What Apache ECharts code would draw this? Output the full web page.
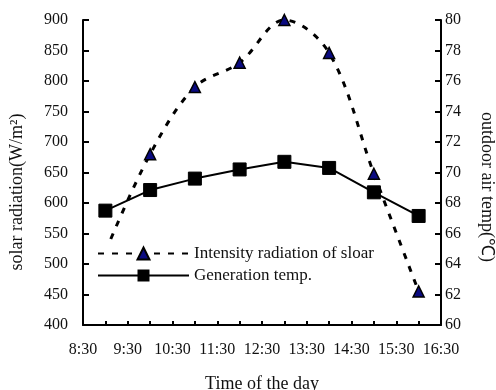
<!DOCTYPE html>
<html>
<head>
<meta charset="utf-8">
<script src="https://cdn.jsdelivr.net/npm/echarts@6/dist/echarts.min.js"></script>
<style>
  html, body { margin: 0; padding: 0; background: #fff; }
  #chart { width: 496px; height: 390px; }
</style>
</head>
<body>
<div id="chart"></div>
<script>
// hours of the day (9 = 9:00)
var hours = [9, 10, 11, 12, 13, 14, 15, 16];
// solar radiation W/m2 (left axis)
var radiation = [520, 680, 790, 830, 900, 846, 648, 455];
// generation temp (right axis)
var genTemp = [67.5, 68.85, 69.6, 70.2, 70.7, 70.3, 68.7, 67.15];

var FONT = "Liberation Serif";

var chart = echarts.init(document.getElementById("chart"));

function pairs(xs, ys) {
  return xs.map(function (x, i) { return [x, ys[i]]; });
}

var option = {
  backgroundColor: "#fff",
  animation: false,
  grid: { left: 83, right: 55, top: 20, bottom: 65, outerBoundsMode: "none", containLabel: false },
  legend: {
    orient: "vertical",
    left: 93,
    top: 243,
    padding: [2, 4],
    itemGap: 5,
    itemWidth: 91,
    itemHeight: 15,
    backgroundColor: "#fff",
    textStyle: { fontFamily: FONT, fontSize: 17, color: "#111" },
    data: ["Intensity radiation of sloar", "Generation temp."]
  },
  xAxis: {
    type: "value",
    min: 8.5,
    max: 16.5,
    interval: 0.5,
    name: "Time of the day",
    nameLocation: "middle",
    nameGap: 50,
    nameTextStyle: { fontFamily: FONT, fontSize: 18, color: "#111" },
    axisLine: { lineStyle: { color: "#000", width: 2 } },
    axisTick: { inside: true, length: 4, lineStyle: { color: "#000", width: 2 } },
    splitLine: { show: false },
    axisLabel: {
      margin: 17,
      fontFamily: FONT,
      fontSize: 16,
      color: "#111",
      formatter: function (v) {
        return (v % 1 === 0.5) ? Math.floor(v) + ":30" : "";
      }
    }
  },
  yAxis: [
    {
      type: "value",
      min: 400,
      max: 900,
      interval: 50,
      axisLine: { show: true, lineStyle: { color: "#000", width: 2 } },
      axisTick: { show: true, inside: true, length: 6, lineStyle: { color: "#000", width: 2 } },
      splitLine: { show: false },
      axisLabel: { margin: 15, fontFamily: FONT, fontSize: 16, color: "#111" }
    },
    {
      type: "value",
      min: 60,
      max: 80,
      interval: 2,
      position: "right",
      axisLine: { show: true, lineStyle: { color: "#000", width: 2 } },
      axisTick: { show: true, inside: true, length: 6, lineStyle: { color: "#000", width: 2 } },
      splitLine: { show: false },
      axisLabel: { margin: 4, fontFamily: FONT, fontSize: 16, color: "#111" }
    }
  ],
  graphic: [
    {
      type: "text",
      x: 17, y: 192,
      rotation: Math.PI / 2,
      style: {
        text: "solar radiation(W/m²)",
        font: "18px " + FONT,
        fill: "#111",
        textAlign: "center",
        textVerticalAlign: "middle"
      }
    },
    {
      type: "text",
      x: 487, y: 187,
      rotation: -Math.PI / 2,
      style: {
        text: "outdoor air temp(℃)",
        font: "18px " + FONT,
        fill: "#111",
        textAlign: "center",
        textVerticalAlign: "middle"
      }
    }
  ],
  series: [
    {
      name: "Intensity radiation of sloar",
      type: "line",
      yAxisIndex: 0,
      smooth: 0.35,
      data: pairs(hours, radiation),
      symbol: "triangle",
      symbolSize: 11,
      itemStyle: { color: "#0a0a80", borderColor: "#000", borderWidth: 1.5 },
      lineStyle: { color: "#000", width: 3, type: [6, 8] }
    },
    {
      name: "Generation temp.",
      type: "line",
      yAxisIndex: 1,
      data: pairs(hours, genTemp),
      symbol: "rect",
      symbolSize: 13,
      itemStyle: { color: "#000", borderColor: "#000" },
      lineStyle: { color: "#000", width: 2 }
    }
  ]
};

chart.setOption(option);
</script>
</body>
</html>
